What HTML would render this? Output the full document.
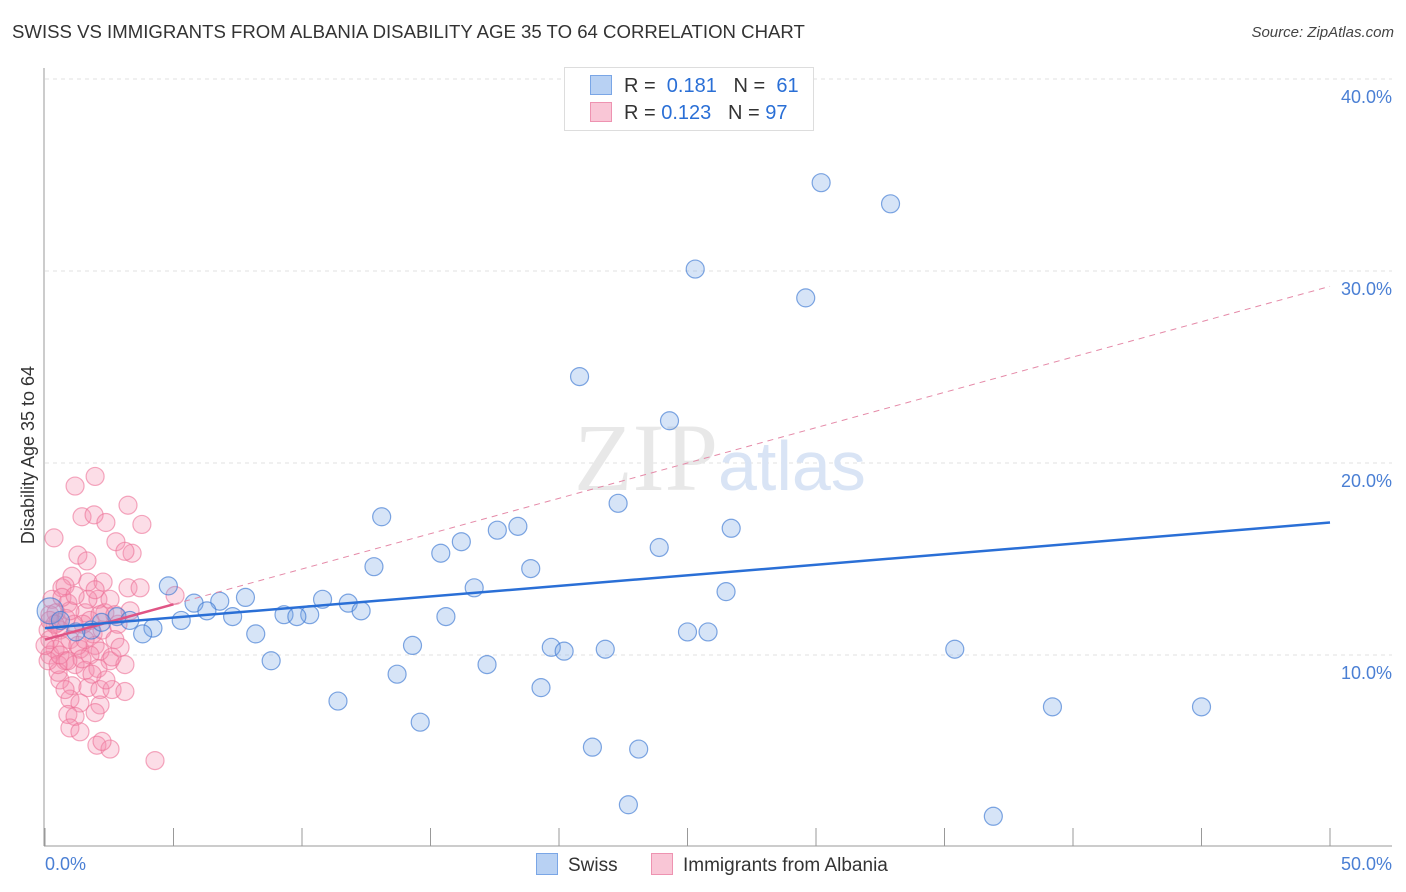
<!DOCTYPE html>
<html><head><meta charset="utf-8"><style>
body{margin:0;background:#fff;font-family:"Liberation Sans",sans-serif;}
#wrap{position:relative;width:1406px;height:892px;overflow:hidden}
.t{position:absolute;white-space:nowrap}
</style></head><body>
<div id="wrap">
<div class="t" style="left:12px;top:21px;font-size:18.6px;color:#333">SWISS VS IMMIGRANTS FROM ALBANIA DISABILITY AGE 35 TO 64 CORRELATION CHART</div>
<div class="t" style="right:12px;top:24px;font-size:15px;color:#444;font-style:italic">Source: ZipAtlas.com</div>
<svg id="svg" width="1406" height="892" style="position:absolute;left:0;top:0"></svg>
</div>
<script>
const swissX=[30.2,32.9,25.3,29.6,20.8,24.3,22.3,13.1,17.6,18.4,16.2,15.4,23.9,26.7,12.8,18.9,4.8,16.7,26.5,7.8,6.8,5.8,10.8,11.8,6.3,12.3,9.3,10.3,9.8,7.3,5.3,2.8,3.3,4.2,3.8,15.6,25.0,25.8,8.2,14.3,19.7,20.2,21.8,35.4,8.8,17.2,13.7,19.3,11.4,14.6,39.2,45.0,21.3,23.1,22.7,36.9,0.2,1.8,2.2,1.2,0.6];
const swissY=[34.6,33.5,30.1,28.6,24.5,22.2,17.9,17.2,16.5,16.7,15.9,15.3,15.6,16.6,14.6,14.5,13.6,13.5,13.3,13.0,12.8,12.7,12.9,12.7,12.3,12.3,12.1,12.1,12.0,12.0,11.8,12.0,11.8,11.4,11.1,12.0,11.2,11.2,11.1,10.5,10.4,10.2,10.3,10.3,9.7,9.5,9.0,8.3,7.6,6.5,7.3,7.3,5.2,5.1,2.2,1.6,12.3,11.3,11.7,11.2,11.8];
const albX=[1.95,1.17,3.23,1.44,1.91,2.37,3.77,0.35,2.76,1.28,3.39,1.63,3.11,1.05,1.67,0.66,0.78,3.23,3.7,2.26,2.06,0.89,5.06,1.56,2.33,0.51,1.75,2.14,0.19,0.58,0.97,1.36,1.95,0.39,0.78,1.17,2.53,3.11,2.14,1.75,2.61,1.56,0.58,1.05,1.67,2.14,2.61,3.11,0.51,0.97,1.36,2.14,1.95,0.89,1.17,0.97,1.36,2.02,2.53,2.22,4.28,0.19,0.12,0.19,0.66,1.28,1.87,1.48,2.84,3.31,2.53,0.12,0.51,0.27,0.43,0.82,1.13,1.67,1.95,0.78,1.56,2.22,2.72,0.58,0,0.39,0.97,2.72,0.19,0.66,1.44,2.06,2.37,2.92,1.17,1.83,0.89];
const albY=[19.3,18.8,17.8,17.2,17.3,16.9,16.8,16.1,15.9,15.2,15.3,14.9,15.4,14.1,13.8,13.5,13.6,13.5,13.5,13.8,12.9,12.7,13.1,12.2,12.2,11.7,11.8,12.1,12.1,11.3,10.8,10.3,10.5,10.3,9.7,9.5,9.7,9.5,10.2,10.0,9.9,9.2,8.7,8.4,8.3,8.2,8.2,8.1,9.1,7.7,7.5,7.4,7.0,6.9,6.8,6.2,6.0,5.3,5.1,5.5,4.5,10.0,11.3,10.8,10.5,10.5,11.1,11.6,11.6,12.3,12.9,9.7,9.5,12.9,12.2,11.9,11.6,12.9,13.4,8.2,10.8,11.3,10.8,10.0,10.5,11.6,12.3,12.1,11.8,13.0,9.8,9.3,8.7,10.4,13.1,9.0,9.7];
const swissTrend=[11.4,16.9];
const albTrend=[10.8,29.2];
const yTicks=[10,20,30,40];
const yTickLabels=["10.0%","20.0%","30.0%","40.0%"];
const xTicks=[0,5,10,15,20,25,30,35,40,45,50];

const NS="http://www.w3.org/2000/svg";
const svg=document.getElementById('svg');
const X=v=>45+v*25.7, Y=v=>847-v*19.2;
function mk(tag,a,name){const e=document.createElementNS(NS,tag);for(const k in a)e.setAttribute(k,a[k]);


svg.appendChild(e);return e;}
yTicks.forEach((v,i)=>{
 mk('line',{x1:45,x2:1392,y1:Y(v),y2:Y(v),stroke:'#e2e2e2','stroke-dasharray':'4,4'},'gridline');
 const t=mk('text',{x:1392,y:Y(v)+24,'text-anchor':'end','font-size':18,fill:'#4a7fd4','font-family':'Liberation Sans'},'y-tick-label');t.textContent=yTickLabels[i];
});
mk('line',{x1:44,x2:44,y1:68,y2:846,stroke:'#999'},'y-axis');
mk('line',{x1:44,x2:1392,y1:846,y2:846,stroke:'#999'},'x-axis');
xTicks.forEach(v=>mk('line',{x1:X(v),x2:X(v),y1:828,y2:846,stroke:'#999'},'x-tick'));
let t=mk('text',{x:45,y:870,'font-size':18,fill:'#4a7fd4','font-family':'Liberation Sans'},'x-min-label');t.textContent='0.0%';
t=mk('text',{x:1392,y:870,'text-anchor':'end','font-size':18,fill:'#4a7fd4','font-family':'Liberation Sans'},'x-max-label');t.textContent='50.0%';
t=mk('text',{x:34,y:455,'text-anchor':'middle','font-size':18,fill:'#333',transform:'rotate(-90 34 455)','font-family':'Liberation Sans'},'y-axis-title');t.textContent='Disability Age 35 to 64';
t=mk('text',{x:718,y:490,'text-anchor':'end','font-size':96,fill:'#e8e8e8','font-family':'Liberation Serif'},'watermark-zip');t.textContent='ZIP';
t=mk('text',{x:718,y:490,'font-size':70,fill:'#d9e4f5','font-family':'Liberation Sans'},'watermark-atlas');t.textContent='atlas';
albX.forEach((x,i)=>mk('circle',{cx:X(x),cy:Y(albY[i]),r:9,fill:'rgba(244,143,177,0.3)',stroke:'rgba(236,112,150,0.6)','stroke-width':1.2},'albania-point'));
swissX.forEach((x,i)=>mk('circle',{cx:X(x),cy:Y(swissY[i]),r:i==56?13:9,fill:'rgba(120,165,230,0.3)',stroke:'rgba(60,120,210,0.65)','stroke-width':1.2},'swiss-point'));
const ay=x=>albTrend[0]+(albTrend[1]-albTrend[0])*x/50;
mk('line',{x1:X(5),y1:Y(ay(5)),x2:X(50),y2:Y(ay(50)),stroke:'#e58aa8','stroke-width':1,'stroke-dasharray':'6,5'},'albania-trend-dashed');
mk('line',{x1:X(0),y1:Y(ay(0)),x2:X(5),y2:Y(ay(5)),stroke:'#e05585','stroke-width':2.5},'albania-trend');
mk('line',{x1:X(0),y1:Y(swissTrend[0]),x2:X(50),y2:Y(swissTrend[1]),stroke:'#2a6fd6','stroke-width':2.5},'swiss-trend');
</script>
<div class="t" style="left:564px;top:67px;width:248px;height:62px;border:1px solid #ddd;background:#fff"></div>
<div class="t" style="left:590px;top:75px;font-size:20px;color:#333"><span style="display:inline-block;width:20px;height:18px;background:#b8d1f3;border:1px solid #7aa6e6;vertical-align:-3px;margin-right:12px"></span>R = &nbsp;<span style="color:#2a6fd6">0.181</span> &nbsp;&nbsp;N = &nbsp;<span style="color:#2a6fd6">61</span></div>
<div class="t" style="left:590px;top:102px;font-size:20px;color:#333"><span style="display:inline-block;width:20px;height:18px;background:#f9c6d6;border:1px solid #ee93b1;vertical-align:-3px;margin-right:12px"></span>R = <span style="color:#2a6fd6">0.123</span> &nbsp;&nbsp;N = <span style="color:#2a6fd6">97</span></div>
<div class="t" style="left:536px;top:853px;font-size:19px;color:#333"><span style="display:inline-block;width:20px;height:20px;background:#b8d1f3;border:1px solid #7aa6e6;vertical-align:-4px;margin-right:10px"></span>Swiss</div>
<div class="t" style="left:651px;top:853px;font-size:19px;color:#333"><span style="display:inline-block;width:20px;height:20px;background:#f9c6d6;border:1px solid #ee93b1;vertical-align:-4px;margin-right:10px"></span>Immigrants from Albania</div>
</body></html>
